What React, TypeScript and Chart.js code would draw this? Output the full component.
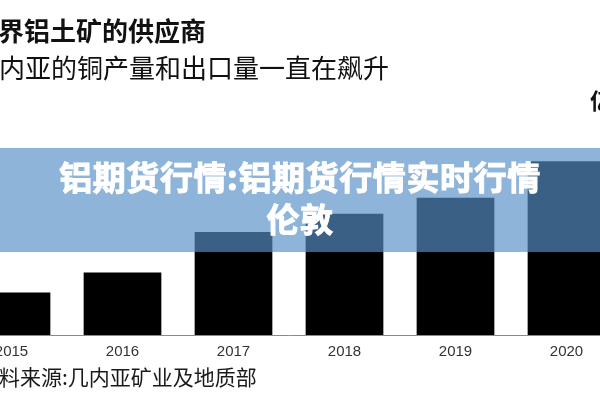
import React, { useEffect, useRef } from "react";
import { Chart, registerables } from "chart.js";

Chart.register(...registerables);

const years: string[] = ["2015", "2016", "2017", "2018", "2019", "2020"];
const bauxiteOutput: number[] = [21, 31, 51, 60, 68, 86];
const titleText = "界铝土矿的供应商";
const subtitleText = "内亚的铜产量和出口量一直在飙升";
const unitText = "亿";
const bannerLine1 = "铝期货行情:铝期货行情实时行情";
const bannerLine2 = "伦敦";
const sourceText = "料来源:几内亚矿业及地质部";

const CJK = '"Noto Sans CJK SC", "Noto Sans", sans-serif';

export default function App() {
  const ref = useRef<HTMLCanvasElement | null>(null);

  useEffect(() => {
    if (!ref.current) return;
    const chart = new Chart(ref.current, {
      type: "bar",
      data: {
        labels: years,
        datasets: [
          {
            data: bauxiteOutput,
            backgroundColor: "#000000",
            borderWidth: 0,
            barPercentage: 0.7,
            categoryPercentage: 1,
          },
        ],
      },
      options: {
        responsive: false,
        animation: false,
        layout: { padding: { top: 133, bottom: 31, left: 0, right: 0 } },
        plugins: {
          legend: { display: false },
          tooltip: { enabled: false },
        },
        scales: {
          x: {
            grid: { display: false, drawTicks: false },
            border: { display: true, color: "#8a8a8a", width: 1 },
            ticks: {
              color: "#333333",
              font: { family: '"Liberation Sans", Arial, sans-serif', size: 15 },
              padding: 8,
              maxRotation: 0,
              autoSkip: false,
            },
          },
          y: { display: false, min: 0, max: 100 },
        },
      },
    });
    return () => chart.destroy();
  }, []);

  return (
    <div
      style={{
        position: "fixed",
        left: 0,
        top: 0,
        width: 600,
        height: 400,
        overflow: "hidden",
        background: "#ffffff",
      }}
    >
      <canvas
        ref={ref}
        width={666}
        height={400}
        style={{ position: "absolute", left: -44, top: 0, width: 666, height: 400, display: "block" }}
      />
      <div
        style={{
          position: "absolute",
          left: -2,
          top: 17,
          fontFamily: CJK,
          fontWeight: 700,
          fontSize: 26,
          lineHeight: "26px",
          color: "#111",
          whiteSpace: "nowrap",
        }}
      >
        {titleText}
      </div>
      <div
        style={{
          position: "absolute",
          left: -1,
          top: 54,
          fontFamily: CJK,
          fontWeight: 400,
          fontSize: 26,
          lineHeight: "26px",
          color: "#111",
          whiteSpace: "nowrap",
        }}
      >
        {subtitleText}
      </div>
      <div
        style={{
          position: "absolute",
          left: 590,
          top: 88,
          fontFamily: CJK,
          fontWeight: 700,
          fontSize: 22,
          lineHeight: "22px",
          color: "#111",
          whiteSpace: "nowrap",
        }}
      >
        {unitText}
      </div>
      <div
        style={{
          position: "absolute",
          left: 0,
          top: 148,
          width: 600,
          height: 104,
          background: "rgba(86,144,199,0.67)",
        }}
      />
      <div
        style={{
          position: "absolute",
          left: 0,
          top: 155,
          width: 600,
          textAlign: "center",
          fontFamily: CJK,
          fontWeight: 700,
          fontSize: 33,
          lineHeight: "42px",
          letterSpacing: "0.6px",
          color: "#ffffff",
          WebkitTextStroke: "1px #ffffff",
          whiteSpace: "nowrap",
        }}
      >
        {bannerLine1}
        <br />
        {bannerLine2}
      </div>
      <div
        style={{
          position: "absolute",
          left: -1,
          top: 366,
          fontFamily: CJK,
          fontWeight: 400,
          fontSize: 21,
          lineHeight: "21px",
          color: "#1a1a1a",
          whiteSpace: "nowrap",
        }}
      >
        {sourceText}
      </div>
    </div>
  );
}
